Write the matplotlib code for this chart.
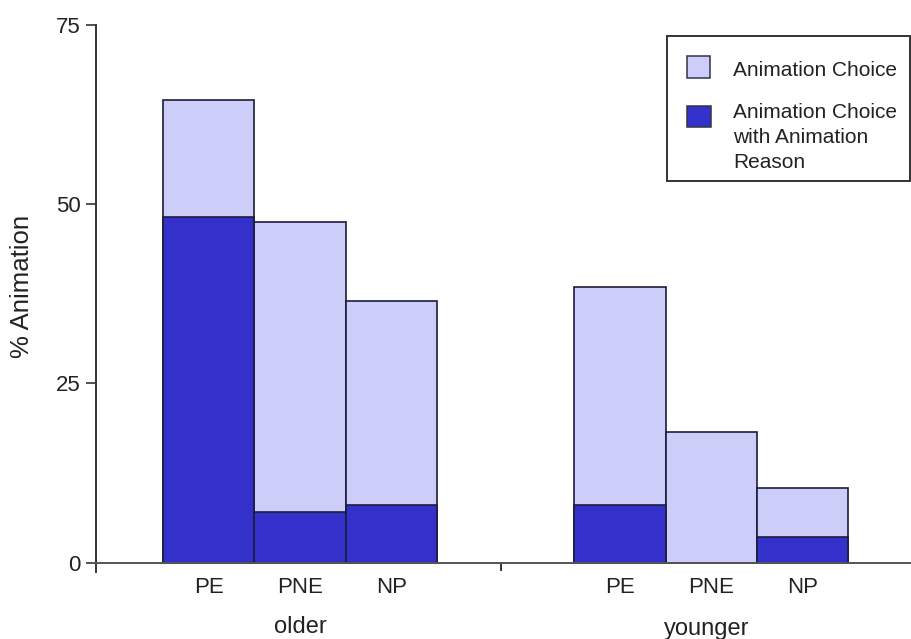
import matplotlib
matplotlib.use("Agg")
import matplotlib.pyplot as plt
from matplotlib.patches import Rectangle
from matplotlib.transforms import blended_transform_factory

# values
groups = ["older", "younger"]
categories = ["PE", "PNE", "NP"]
choice_older = [64.5, 47.5, 36.5]
choice_younger = [38.5, 18.2, 10.4]
reason_older = [48.2, 7.1, 8.0]
reason_younger = [8.0, 0.0, 3.6]
yticks = [0, 25, 50, 75]

light = "#CDCDF9"
dark = "#3430CA"
edge = "#1c1c3a"
ink = "#222222"

plt.rcParams["font.family"] = ["Liberation Sans", "DejaVu Sans"]
plt.rcParams["font.size"] = 15

fig = plt.figure(figsize=(9.11, 6.39), dpi=100)
ax = fig.add_axes([96 / 911, 1 - 571.7 / 639, 815 / 911, 546.7 / 639])

older_x = [0, 1, 2]
younger_x = [4.5, 5.5, 6.5]

ax.bar(older_x, choice_older, width=1.0, color=light, edgecolor=edge, linewidth=1.2)
ax.bar(younger_x, choice_younger, width=1.0, color=light, edgecolor=edge, linewidth=1.2)
ax.bar(older_x, reason_older, width=1.0, color=dark, edgecolor=edge, linewidth=1.2)
ax.bar(younger_x, reason_younger, width=1.0, color=dark, edgecolor=edge, linewidth=1.2)

ax.set_xlim(-1.233, 7.684)
ax.set_ylim(-1.25, 75)

for s in ["top", "right"]:
    ax.spines[s].set_visible(False)
ax.spines["bottom"].set_position(("data", 0))
ax.spines["left"].set_color("#333333")
ax.spines["bottom"].set_color("#555555")
ax.spines["left"].set_linewidth(1.4)
ax.spines["bottom"].set_linewidth(1.4)

ax.set_yticks(yticks)
ax.tick_params(axis="y", length=7, width=1.2, color="#333333", pad=4,
               labelcolor=ink, labelsize=16)

ax.set_xticks(older_x + younger_x)
ax.set_xticklabels(categories + categories)
ax.tick_params(axis="x", which="major", length=0, pad=10, labelcolor=ink, labelsize=16)
ax.set_xticks([3.2], minor=True)
ax.tick_params(axis="x", which="minor", length=6, width=1.4, color="#333333")

ax.set_ylabel("% Animation", color=ink, fontsize=18.5)
ax.yaxis.set_label_coords(-0.076, 0.522)

trans = blended_transform_factory(ax.transData, ax.transAxes)
ax.text(1.0, -0.101, groups[0], transform=trans, ha="center", va="center",
        color=ink, fontsize=17)
ax.text(5.45, -0.105, groups[1], transform=trans, ha="center", va="center",
        color=ink, fontsize=17)

# legend box drawn by hand so the handles line up with the first text line
def fx(px):
    return px / 911


def fy(py):
    return 1 - py / 639


fig.add_artist(Rectangle((fx(667), fy(181)), fx(910) - fx(667), fy(36) - fy(181),
                         transform=fig.transFigure, facecolor="white",
                         edgecolor="#333333", linewidth=1.4, clip_on=False))
fig.add_artist(Rectangle((fx(687), fy(78)), 23 / 911, 22 / 639, transform=fig.transFigure,
                         facecolor=light, edgecolor="#333344", linewidth=1.1))
fig.add_artist(Rectangle((fx(687), fy(127)), 24 / 911, 21 / 639, transform=fig.transFigure,
                         facecolor=dark, edgecolor="#333344", linewidth=1.1))
fig.text(fx(733), fy(70), "Animation Choice", ha="left", va="center", color=ink)
fig.text(fx(733), fy(103), "Animation Choice\nwith Animation\nReason", ha="left", va="top",
         color=ink, linespacing=1.41)

fig.savefig("out.png", dpi=100)
